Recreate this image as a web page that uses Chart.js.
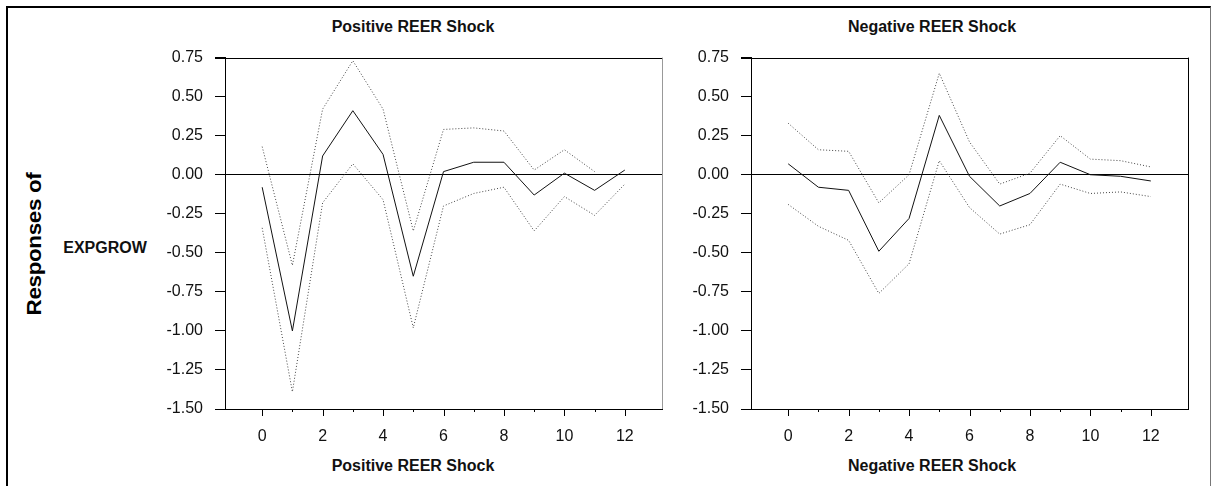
<!DOCTYPE html>
<html>
<head>
<meta charset="utf-8">
<script src="https://cdn.jsdelivr.net/npm/chart.js@4/dist/chart.umd.min.js"></script>
<style>
    body { margin: 0; background: #fff; width: 1211px; height: 486px; overflow: hidden; position: relative; font-family: 'Liberation Sans', Arial, sans-serif; }
    #frame { position: absolute; left: 6px; top: 6px; width: 1202px; height: 520px; border-top: 2px solid #000; border-left: 2px solid #000; border-right: 1px solid #777; }
    .box { position: absolute; top: 36px; width: 530px; height: 414px; }
    .title { position: absolute; font-weight: bold; font-size: 16px; transform: translate(-50%, -50%); white-space: nowrap; color: #111; }
    #resp { position: absolute; left: 34px; top: 244px; font-weight: bold; font-size: 20px; letter-spacing: -0.3px; transform: translate(-50%, -50%) rotate(-90deg) scaleX(1.12); white-space: nowrap; color: #000; }
    #varname { position: absolute; left: 105px; top: 248px; font-weight: bold; font-size: 16px; transform: translate(-50%, -50%); color: #111; }
</style>
</head>
<body>
<div id="frame"></div>
<div class="title" style="left:413px; top:27px;">Positive REER Shock</div>
<div class="title" style="left:932px; top:27px;">Negative REER Shock</div>
<div class="title" style="left:413px; top:466px;">Positive REER Shock</div>
<div class="title" style="left:932px; top:466px;">Negative REER Shock</div>
<div id="resp">Responses of</div>
<div id="varname">EXPGROW</div>
<div class="box" style="left:150px;"><canvas id="chartPos"></canvas></div>
<div class="box" style="left:680px;"><canvas id="chartNeg"></canvas></div>
<script>
// horizon steps
const steps = [0, 1, 2, 3, 4, 5, 6, 7, 8, 9, 10, 11, 12];
const yTicks = [-1.5, -1.25, -1.0, -0.75, -0.5, -0.25, 0, 0.25, 0.5, 0.75];

// positive REER shock: response and bands
const posMid = [-0.08, -1.00, 0.12, 0.41, 0.13, -0.65, 0.02, 0.08, 0.08, -0.13, 0.01, -0.10, 0.03];
const posUpper = [0.18, -0.58, 0.42, 0.73, 0.42, -0.36, 0.29, 0.30, 0.28, 0.03, 0.16, 0.02, null];
const posLower = [-0.34, -1.39, -0.18, 0.07, -0.16, -0.98, -0.20, -0.12, -0.08, -0.36, -0.14, -0.26, -0.06];

// negative REER shock
const negMid = [0.07, -0.08, -0.10, -0.49, -0.28, 0.38, -0.01, -0.20, -0.12, 0.08, 0.00, -0.01, -0.04];
const negUpper = [0.33, 0.16, 0.15, -0.18, 0.00, 0.65, 0.21, -0.06, 0.01, 0.25, 0.10, 0.09, 0.05];
const negLower = [-0.19, -0.33, -0.42, -0.76, -0.57, 0.09, -0.21, -0.38, -0.32, -0.06, -0.12, -0.11, -0.14];

Chart.defaults.font.family = "'Liberation Sans', Arial, sans-serif";
Chart.defaults.color = '#111';

function toPoints(arr) {
    return steps.map((s, i) => ({ x: s, y: arr[i] }));
}

// top/right box edges and x tick marks (long on even, short on odd)
const framePlugin = {
    id: 'framePlugin',
    afterDraw(chart, args, opts) {
        const ctx = chart.ctx;
        const a = chart.chartArea;
        const xs = chart.scales.x;
        ctx.save();
        ctx.lineWidth = 1;
        ctx.strokeStyle = '#000';
        ctx.beginPath();
        ctx.moveTo(a.left - 10, Math.round(a.top) + 0.5);
        ctx.lineTo(a.right, Math.round(a.top) + 0.5);
        ctx.stroke();
        ctx.strokeStyle = opts.rightColor || '#000';
        ctx.beginPath();
        ctx.moveTo(Math.round(a.right) + 0.5, a.top);
        ctx.lineTo(Math.round(a.right) + 0.5, a.bottom);
        ctx.stroke();
        ctx.strokeStyle = '#000';
        steps.forEach(s => {
            const px = Math.round(xs.getPixelForValue(s)) + 0.5;
            const len = s % 2 === 0 ? 7 : 3;
            ctx.beginPath();
            ctx.moveTo(px, a.bottom);
            ctx.lineTo(px, a.bottom + len);
            ctx.stroke();
        });
        ctx.restore();
    }
};

function makeChart(id, mid, upper, lower, yWidth, padRight, rightColor) {
    const band = {
        borderColor: '#444',
        borderWidth: 1,
        borderDash: [1, 2],
        pointRadius: 0,
        tension: 0,
        spanGaps: false
    };
    return new Chart(document.getElementById(id), {
        type: 'line',
        data: {
            datasets: [
                Object.assign({ label: 'upper', data: toPoints(upper) }, band),
                Object.assign({ label: 'lower', data: toPoints(lower) }, band),
                {
                    label: 'response',
                    data: toPoints(mid),
                    borderColor: '#111',
                    borderWidth: 1,
                    pointRadius: 0,
                    tension: 0
                }
            ]
        },
        options: {
            responsive: true,
            maintainAspectRatio: false,
            animation: false,
            layout: { padding: { top: 13, right: padRight, left: 0, bottom: 0 } },
            plugins: {
                legend: { display: false },
                tooltip: { enabled: false },
                framePlugin: { rightColor: rightColor }
            },
            scales: {
                x: {
                    type: 'linear',
                    min: -1.23,
                    max: 13.23,
                    afterBuildTicks: s => { s.ticks = steps.map(v => ({ value: v })); },
                    afterFit: s => { s.height = 41; },
                    grid: { display: false },
                    border: { display: true, color: '#000', width: 1 },
                    ticks: {
                        padding: 10,
                        maxRotation: 0,
                        autoSkip: false,
                        font: { size: 16 },
                        callback: v => (v % 2 === 0 ? String(v) : '')
                    }
                },
                y: {
                    min: -1.5,
                    max: 0.75,
                    afterBuildTicks: s => { s.ticks = yTicks.map(v => ({ value: v })); },
                    afterFit: s => { s.width = yWidth; },
                    grid: {
                        drawOnChartArea: true,
                        drawTicks: true,
                        tickLength: 10,
                        tickColor: '#000',
                        color: c => (c.tick && c.tick.value === 0 ? '#000' : 'rgba(0,0,0,0)')
                    },
                    border: { display: true, color: '#000', width: 1 },
                    ticks: {
                        padding: 12,
                        font: { size: 16 },
                        callback: v => v.toFixed(2)
                    }
                }
            }
        },
        plugins: [framePlugin]
    });
}

makeChart('chartPos', posMid, posUpper, posLower, 75, 18, '#999');
makeChart('chartNeg', negMid, negUpper, negLower, 71, 22, '#000');
</script>
</body>
</html>
